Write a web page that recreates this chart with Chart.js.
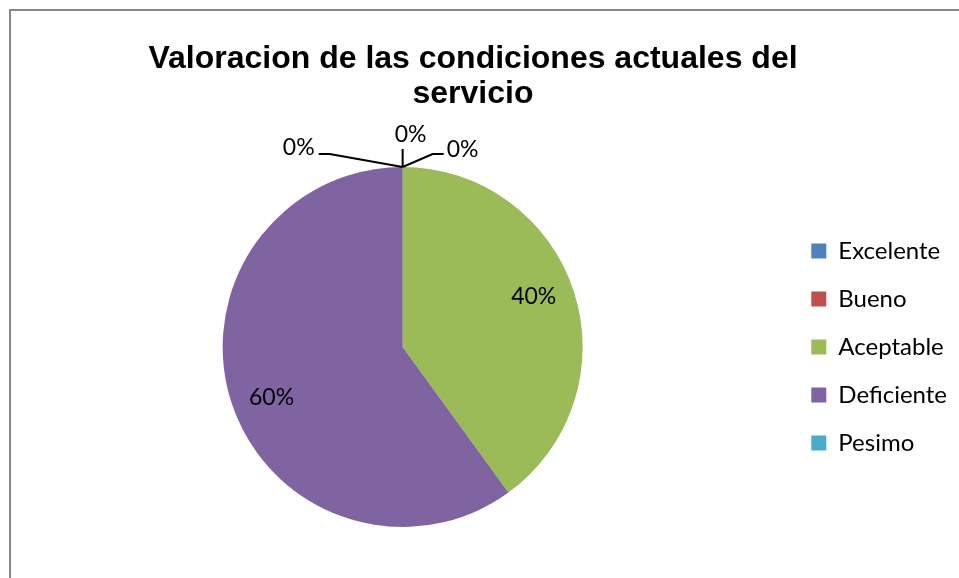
<!DOCTYPE html>
<html>
<head>
<meta charset="utf-8">
<script src="https://cdn.jsdelivr.net/npm/chart.js@4.4.0/dist/chart.umd.min.js"></script>
<style>
  html, body { margin: 0; padding: 0; background: #fff; overflow: hidden; }
  #frame { position: absolute; left: 9px; top: 9px; width: 1000px; height: 600px; border: 2px solid #878787; box-sizing: border-box; }
  #wrap { position: absolute; left: 0; top: 0; width: 959px; height: 578px; }
</style>
</head>
<body>
<div id="frame"></div>
<div id="wrap"><canvas id="chart"></canvas></div>
<script>
const categories = ['Excelente', 'Bueno', 'Aceptable', 'Deficiente', 'Pesimo'];
const values = [0, 0, 40, 60, 0];
const percentLabels = ['0%', '0%', '40%', '60%', '0%'];
const colors = ['#4F81BD', '#C0504D', '#9BBB59', '#8064A2', '#4BACC6'];
const titleLines = ['Valoracion de las condiciones actuales del', 'servicio'];

// title drawn by hand so it can sit centred on the whole frame, not over the pie
const titlePlugin = {
  id: 'frameTitle',
  afterDraw(chart) {
    const ctx = chart.ctx;
    ctx.save();
    ctx.font = 'bold 32px "Liberation Sans", Arial, sans-serif';
    ctx.fillStyle = '#000';
    ctx.textAlign = 'center';
    ctx.textBaseline = 'alphabetic';
    ctx.fillText(titleLines[0], 473, 68);
    ctx.fillText(titleLines[1], 473, 103);
    ctx.restore();
  }
};

// percent labels, with Excel-like leader lines for the empty slices
const leaders = {
  0: { pts: [[0, -18]], text: [8, -32], align: 'center' },
  1: { pts: [[30, -13], [41, -13]], text: [44, -17], align: 'left' },
  4: { pts: [[-73, -13], [-84, -13]], text: [-88, -19], align: 'right' }
};

const labelPlugin = {
  id: 'pctLabels',
  afterDatasetsDraw(chart) {
    const ctx = chart.ctx;
    const meta = chart.getDatasetMeta(0);
    ctx.save();
    ctx.font = '23px Lato, sans-serif';
    ctx.fillStyle = '#000';
    ctx.strokeStyle = '#000';
    ctx.lineWidth = 2;
    ctx.textBaseline = 'middle';
    meta.data.forEach((arc, i) => {
      const p = arc.getProps(['x', 'y', 'startAngle', 'endAngle', 'outerRadius'], true);
      if (values[i] > 0) {
        const mid = (p.startAngle + p.endAngle) / 2 - 0.052;
        const r = p.outerRadius * 0.78;
        ctx.textAlign = 'center';
        ctx.fillText(percentLabels[i], p.x + Math.cos(mid) * r, p.y + Math.sin(mid) * r);
      } else {
        const ax = p.x + Math.cos(p.startAngle) * p.outerRadius;
        const ay = p.y + Math.sin(p.startAngle) * p.outerRadius;
        const l = leaders[i];
        ctx.beginPath();
        ctx.moveTo(ax, ay);
        l.pts.forEach(q => ctx.lineTo(ax + q[0], ay + q[1]));
        ctx.stroke();
        ctx.textAlign = l.align;
        ctx.fillText(percentLabels[i], ax + l.text[0], ay + l.text[1]);
      }
    });
    ctx.restore();
  }
};

new Chart('chart', {
  type: 'pie',
  data: {
    labels: categories,
    datasets: [{
      data: values,
      backgroundColor: colors,
      borderWidth: 0,
      hoverOffset: 0
    }]
  },
  options: {
    responsive: true,
    maintainAspectRatio: false,
    animation: false,
    layout: { padding: { top: 167, bottom: 51, left: 18, right: 2 } },
    plugins: {
      title: { display: false },
      tooltip: { enabled: false },
      legend: {
        display: true,
        position: 'right',
        labels: {
          boxWidth: 15,
          boxHeight: 15,
          padding: 24,
          color: '#000',
          font: { family: 'Lato, sans-serif', size: 24 }
        }
      }
    }
  },
  plugins: [titlePlugin, labelPlugin]
});
</script>
</body>
</html>
